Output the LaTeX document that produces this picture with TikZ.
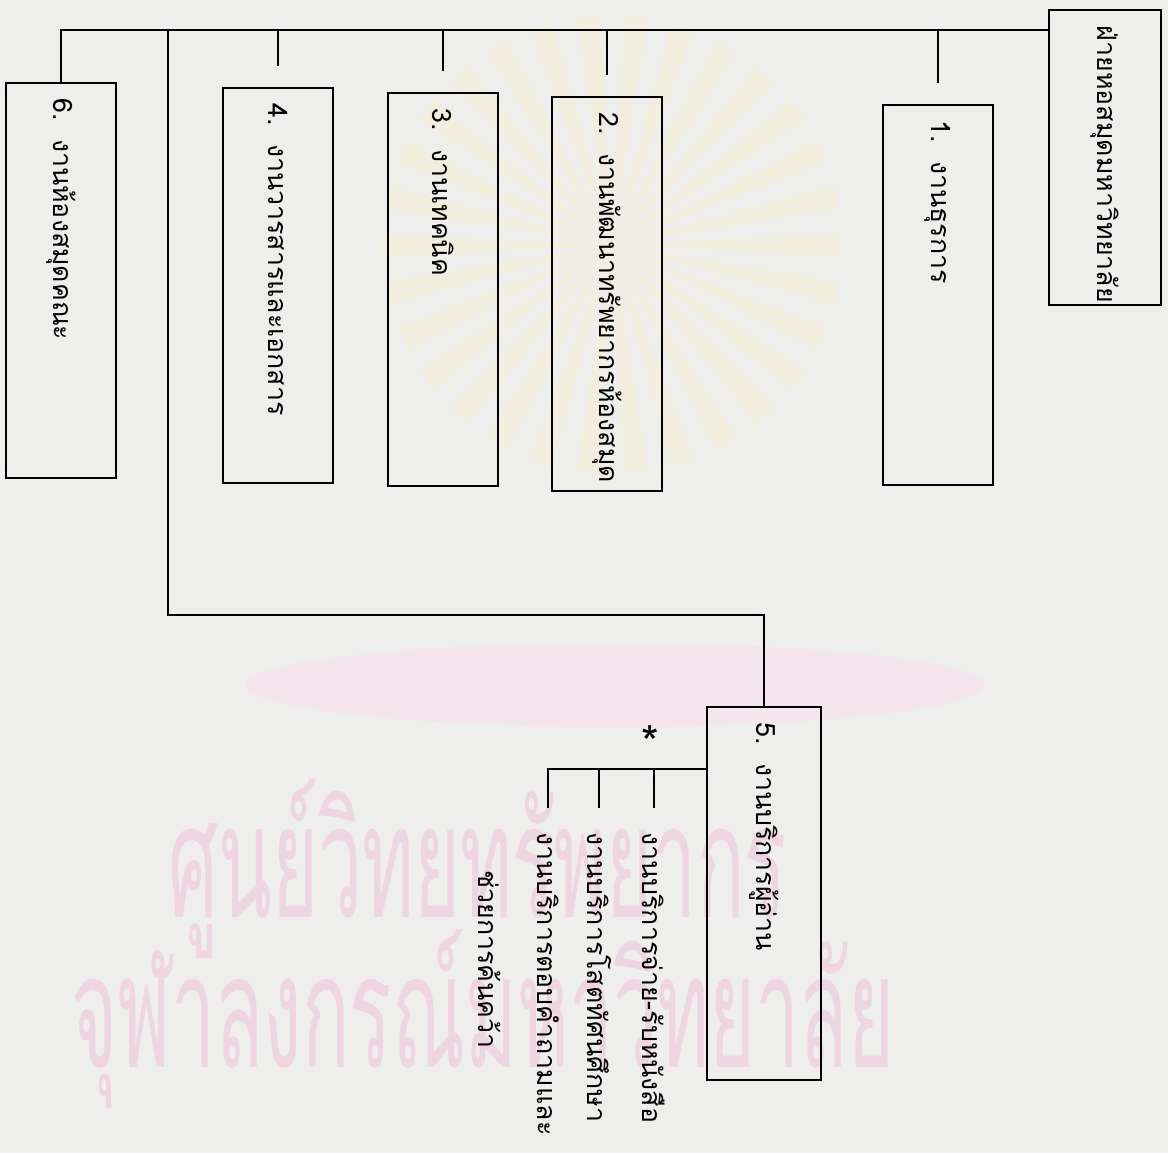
\documentclass[tikz,border=0pt]{standalone}
\usepackage{fontspec}
\newfontfamily\thaifont[Script=Thai]{Loma}
\usetikzlibrary{positioning}
\definecolor{paper}{RGB}{238,238,236}
\definecolor{stamp}{RGB}{239,213,225}
\definecolor{ray}{RGB}{242,238,222}
\definecolor{ribbon}{RGB}{244,230,236}
\newcommand\thaitext{\thaifont\fontsize{19}{34}\selectfont}
\newcommand\stamptext{\thaifont\fontsize{112}{120}\selectfont}
\tikzset{
  dept/.style={draw, line width=1.1pt, rotate=-90, align=left,
    inner xsep=0.4cm, minimum height=2.75cm, font=\thaitext},
  subtask/.style={rotate=-90, anchor=west, inner sep=0pt, font=\thaitext},
  stampmark/.style={text=stamp, anchor=base west, inner sep=0pt, font=\stamptext},
  link/.style={line width=1.1pt},
  gap/.style={shorten >=0.53cm},
}

\begin{document}
\begin{tikzpicture}[x=0.025cm,y=-0.025cm]
  \useasboundingbox (0,0) rectangle (1168,1153);
  \fill[paper] (0,0) rectangle (1168,1153);
  % faint emblem and watermark of the scan
  \foreach \a in {0,12,...,348}
    \fill[ray, shift={(612,245)}] (0,0) -- (\a-3:230) -- (\a+3:230) -- cycle;
  \fill[ribbon] (615,685) ellipse (370 and 42);
  \node[stampmark] (wm1) at (168,917) {\scalebox{0.5}[1]{ศูนย์วิทยทรัพยากร}};
  \node[stampmark] (wm2) at (71,1067) {\scalebox{0.5}[1]{จุฬาลงกรณ์มหาวิทยาลัย}};

  \node[dept, text width=6.575cm, minimum height=2.8cm] (root) at (1105,157.5) {ฝ่ายหอสมุดมหาวิทยาลัย};
  \node[dept, text width=8.7cm] (b1) at (938,295) {1.~~งานธุรการ};
  \node[dept, text width=9.05cm] (b2) at (607,294) {2.~~งานพัฒนาทรัพยากรห้องสมุด};
  \node[dept, text width=9.025cm] (b3) at (443,289.5) {3.~~งานเทคนิค};
  \node[dept, text width=9.075cm] (b4) at (278,285.5) {4.~~งานวารสารและเอกสาร};
  \node[dept, text width=8.525cm, minimum height=2.85cm] (b5) at (764,893.5) {5.~~งานบริการผู้อ่าน};
  \node[dept, text width=9.075cm] (b6) at (61,280.5) {6.~~งานห้องสมุดคณะ};

  \node[subtask] (s1) at (654,832) {งานบริการจ่าย-รับหนังสือ};
  \node[subtask] (s2) at (599,832) {งานบริการโสตทัศนศึกษา};
  \node[subtask] (s3) at (548,832) {งานบริการตอบคำถามและ};
  \node[subtask] (s3b) at (490,870) {ช่วยการค้นคว้า};
  \node[font=\thaifont\fontsize{32}{32}\selectfont] (ast) at (650,742) {*};

  % main line
  \draw[link] ([yshift=-0.525cm]root.south west) coordinate (bus) -| (b6.west);
  \draw[link, gap] (bus) -| (b6.west);
  \foreach \b in {b1,b2,b3,b4}
    \draw[link, gap] (bus -| \b.west) -- (\b.west);
  \coordinate (bend) at (168,615);
  \draw[link] (bus -| bend) -- (bend) -| (b5.west);

  % readers service
  \draw[link, shorten >=0.6cm] ([yshift=-1.575cm]b5.south west) coordinate (fork) -| (s3.west);
  \foreach \s in {s1,s2}
    \draw[link, shorten >=0.6cm] (fork -| \s.west) -- (\s.west);
\end{tikzpicture}
\end{document}
